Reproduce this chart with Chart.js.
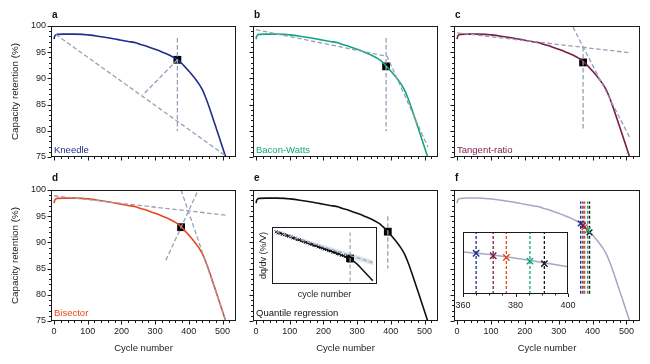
<!DOCTYPE html>
<html><head><meta charset="utf-8">
<script src="https://cdn.jsdelivr.net/npm/chart.js@4.4.1/dist/chart.umd.min.js"></script>
<style>
html,body{margin:0;padding:0;background:#fff;width:650px;height:364px;overflow:hidden;position:relative}
canvas{position:absolute;left:0;top:0}
</style></head><body>
<script>
// ---------------- DATA ----------------
const cycles    = [0,2,5,10,30,60,85,100,130,160,190,220,245,255,275,300,320,340,350,360,365,370,375,380,385,390,395,400,410,420,430,440,450,460,470,480,490,500,510];
const retention = [97.5,98.05,98.3,98.4,98.45,98.45,98.4,98.3,98.05,97.75,97.4,97.05,96.75,96.5,96.15,95.55,95.05,94.5,94.18,93.83,93.63,93.38,93.1,92.8,92.45,92.1,91.75,91.4,90.65,89.85,88.95,87.85,86.35,84.6,82.7,80.75,78.8,76.85,74.9];

const methods       = ['Kneedle','Bacon-Watts','Tangent-ratio','Bisector','Quantile regression'];
const kneeCycle     = [366, 386, 372, 377, 391];
const kneeRetention = [93.55, 92.3, 93.05, 92.9, 92.05];

// dashed construction lines, [cycle, retention] end points
const kneedleGuides  = [[[5,98.4],[510,75.2]], [[366,93.55],[263,86.8]], [[366,97.7],[366,79.9]]];
const baconGuides    = [[[0,99.3],[389,94.2],[510,76.9]], [[386,97.7],[386,79.9]]];
const tangentGuides  = [[[0,98.7],[510,94.9]], [[342,99.8],[510,78.7]], [[372,96.0],[372,80.0]]];
const bisectorGuides = [[[0,98.9],[510,95.2]], [[377,100],[510,75]], [[332,86.6],[428,100]]];
const quantileGuides = [[[391,95.0],[391,85.0]]];

// panel f: knee onsets of all methods (blue, maroon, orange, green, black)
const onsetCycle     = [365, 371.5, 376.5, 385.5, 391];
const onsetRetention = [93.6, 93.2, 92.9, 92.3, 91.9];
const onsetSpanMain  = [80.2, 97.8];

// inset of panel e (arbitrary units)
const insetX    = [4,6,8,10,12,14,16,18,20,22,24,26,28,30,32,34,36,38,40,42,44,46,48,50,52,54,56,58,60,62,64,66,68,70,72,74,76,78,80,82,84,86,88,90,92,94,96];
const insetDqdv = [0.915,0.896,0.893,0.872,0.868,0.851,0.838,0.829,0.807,0.803,0.779,0.776,0.757,0.748,0.731,0.722,0.703,0.696,0.675,0.672,0.652,0.640,0.627,0.611,0.604,0.585,0.578,0.556,0.552,0.531,0.524,0.502,0.497,0.475,0.466,0.448,0.425,0.397,0.366,0.331,0.294,0.255,0.215,0.175,0.135,0.096,0.057];
const insetBandX     = [4, 96];
const insetBandUpper = [0.943, 0.417];
const insetBandLower = [0.874, 0.331];
const insetFitY      = [0.912, 0.374];
const insetKnee      = [74.4, 0.446];
const insetKneeSpan  = [0.046, 0.903];

// tick labels
const xTickLabels = [0,100,200,300,400,500];
const yTickLabels = [75,80,85,90,95,100];
const insetFTicks = [360,380,400];

// ---------------- STYLE ----------------
const FONT = "'Liberation Sans', Arial, Helvetica, sans-serif";
const NAVY='#1f2e8c', GREEN='#14a57f', MAROON='#7a1d48', ORANGE='#e8461c', BLACK='#111111';
const GREY='#98a0b6', FGREY='#a3a9c2';
const ONSET_COLORS=[NAVY, MAROON, ORANGE, GREEN, '#1a1a1a'];

const xMinor=[]; for(let v=20; v<=520; v+=20) if(v%100) xMinor.push(v);
const yMinor=[]; for(let v=76; v<100; v++) if(v%5) yMinor.push(v);
const fMinor=[365,370,375,385,390,395];

const curvePts = cycles.map((c,i)=>({x:c,y:retention[i]}));

function drawTexts(ctx, list){
  list.forEach(o=>{
    ctx.save();
    ctx.font=(o.bold?'bold ':'')+o.size+'px '+FONT;
    ctx.fillStyle=o.color||'#222';
    ctx.textAlign=o.align||'left';
    ctx.textBaseline=o.base||'alphabetic';
    ctx.translate(o.x,o.y);
    if(o.rot) ctx.rotate(o.rot);
    ctx.fillText(o.t,0,0);
    ctx.restore();
  });
}

function makeChart(area, datasets, cfg){
  const cv=document.createElement('canvas');
  cv.width=650; cv.height=364; cv.style.width='650px'; cv.style.height='364px';
  document.body.appendChild(cv);
  const deco={
    id:'deco',
    beforeDraw(chart){
      if(!cfg.whiteBg) return;
      const a=chart.chartArea, c=chart.ctx;
      c.save(); c.fillStyle='#fff'; c.fillRect(a.left,a.top,a.right-a.left,a.bottom-a.top); c.restore();
    },
    afterDraw(chart){
      const c=chart.ctx, a=chart.chartArea, xs=chart.scales.x, ys=chart.scales.y;
      c.save();
      c.strokeStyle='#1a1a1a'; c.lineWidth=1;
      const L=Math.round(a.left)+0.5, T=Math.round(a.top)+0.5, R=Math.round(a.right)-0.5, B=Math.round(a.bottom)-0.5;
      c.strokeRect(L,T,R-L,B-T);
      c.beginPath();
      if(cfg.tx){
        cfg.tx.major.forEach(v=>{const p=Math.round(xs.getPixelForValue(v))+0.5; c.moveTo(p,B); c.lineTo(p,B+cfg.tx.ml);});
        cfg.tx.minor.forEach(v=>{const p=Math.round(xs.getPixelForValue(v))+0.5; c.moveTo(p,B); c.lineTo(p,B+cfg.tx.nl);});
      }
      if(cfg.ty){
        cfg.ty.major.forEach(v=>{const p=Math.round(ys.getPixelForValue(v))+0.5; c.moveTo(L,p); c.lineTo(L-cfg.ty.ml,p);});
        cfg.ty.minor.forEach(v=>{const p=Math.round(ys.getPixelForValue(v))+0.5; c.moveTo(L,p); c.lineTo(L-cfg.ty.nl,p);});
      }
      c.stroke();
      c.restore();
      drawTexts(c, cfg.texts||[]);
    }
  };
  const yW=area.l, xH=364-area.b;
  return new Chart(cv,{
    type:'line',
    data:{datasets},
    options:{
      responsive:false, animation:false, devicePixelRatio:1, events:[],
      layout:{padding:{left:0, top:area.t, right:650-area.r, bottom:0}},
      plugins:{legend:{display:false}, tooltip:{enabled:false}, title:{display:false}},
      elements:{line:{tension:0}, point:{radius:0}},
      scales:{
        x:{type:'linear', min:cfg.xmin, max:cfg.xmax,
           grid:{display:false, drawTicks:false}, border:{display:false},
           afterFit(s){s.height=xH;},
           afterBuildTicks(s){s.ticks=(cfg.xLabels||[]).map(v=>({value:v}));},
           ticks:{display:!!cfg.showX, font:{family:FONT,size:9}, color:'#222', padding:cfg.xPad||5, maxRotation:0, minRotation:0, autoSkip:false}},
        y:{type:'linear', min:cfg.ymin, max:cfg.ymax,
           grid:{display:false, drawTicks:false}, border:{display:false},
           afterFit(s){s.width=yW;},
           afterBuildTicks(s){s.ticks=(cfg.yLabels||[]).map(v=>({value:v}));},
           ticks:{display:!!cfg.showY, font:{family:FONT,size:9}, color:'#222', padding:5, autoSkip:false}}
      }
    },
    plugins:[deco]
  });
}

function curveDs(color,width,order){
  return {data:curvePts, borderColor:color, borderWidth:width||1.6, pointRadius:0, cubicInterpolationMode:'monotone', fill:false, order:order||2};
}
function segDs(pts,color,dash,width,order){
  return {data:pts.map(p=>({x:p[0],y:p[1]})), borderColor:color, borderDash:dash||[4.5,2.5], borderWidth:width||1.3, pointRadius:0, fill:false, order:order||1};
}
function kneeDs(i,r){
  return {data:[{x:kneeCycle[i],y:kneeRetention[i]}], showLine:false, pointStyle:'rect', pointRadius:r||5.5,
          pointBackgroundColor:'#000', pointBorderColor:'#000', pointBorderWidth:0, order:3};
}

const mainTicks={tx:{major:xTickLabels,minor:xMinor,ml:4,nl:2.5}, ty:{major:yTickLabels,minor:yMinor,ml:4,nl:2.5}};
const base={xmin:-9,xmax:540,ymin:75,ymax:100,xLabels:xTickLabels,yLabels:yTickLabels};
const TOP={t:26,b:157}, BOT={t:190,b:321};
const COLS=[{l:51,r:236},{l:253,r:438},{l:454,r:640}];
const yTitle='Capacity retention (%)', xTitle='Cycle number';

// ---- panel a ----
makeChart({l:COLS[0].l,r:COLS[0].r,t:TOP.t,b:TOP.b},
  [kneeDs(0), curveDs(NAVY)].concat(kneedleGuides.map(g=>segDs(g,GREY))),
  Object.assign({},base,mainTicks,{showY:true, texts:[
    {t:'a',x:52,y:17.5,size:10,bold:true,color:'#111'},
    {t:methods[0],x:54,y:152.5,size:9.5,color:NAVY},
    {t:yTitle,x:15,y:91.5,size:9.8,rot:-Math.PI/2,align:'center',base:'middle'}]}));
// ---- panel b ----
makeChart({l:COLS[1].l,r:COLS[1].r,t:TOP.t,b:TOP.b},
  [kneeDs(1), curveDs(GREEN)].concat(baconGuides.map(g=>segDs(g,GREY))),
  Object.assign({},base,mainTicks,{texts:[
    {t:'b',x:254,y:17.5,size:10,bold:true,color:'#111'},
    {t:methods[1],x:256,y:152.5,size:9.5,color:GREEN}]}));
// ---- panel c ----
makeChart({l:COLS[2].l,r:COLS[2].r,t:TOP.t,b:TOP.b},
  [kneeDs(2), curveDs(MAROON)].concat(tangentGuides.map(g=>segDs(g,GREY))),
  Object.assign({},base,mainTicks,{texts:[
    {t:'c',x:455,y:17.5,size:10,bold:true,color:'#111'},
    {t:methods[2],x:457,y:152.5,size:9.5,color:MAROON}]}));
// ---- panel d ----
makeChart({l:COLS[0].l,r:COLS[0].r,t:BOT.t,b:BOT.b},
  [kneeDs(3), curveDs(ORANGE)].concat(bisectorGuides.map(g=>segDs(g,GREY))),
  Object.assign({},base,mainTicks,{showY:true, showX:true, texts:[
    {t:'d',x:52,y:181,size:10,bold:true,color:'#111'},
    {t:methods[3],x:54,y:316,size:9.5,color:ORANGE},
    {t:yTitle,x:15,y:255.5,size:9.8,rot:-Math.PI/2,align:'center',base:'middle'},
    {t:xTitle,x:143.5,y:348,size:9.5,align:'center',base:'middle'}]}));
// ---- panel e ----
makeChart({l:COLS[1].l,r:COLS[1].r,t:BOT.t,b:BOT.b},
  [kneeDs(4), curveDs(BLACK)].concat(quantileGuides.map(g=>segDs(g,GREY))),
  Object.assign({},base,mainTicks,{showX:true, texts:[
    {t:'e',x:254,y:181,size:10,bold:true,color:'#111'},
    {t:methods[4],x:256,y:316,size:9.5,color:'#111'},
    {t:xTitle,x:345.5,y:348,size:9.5,align:'center',base:'middle'},
    {t:'dq/dv (%/V)',x:264,y:255.5,size:9,rot:-Math.PI/2,align:'center',base:'middle'},
    {t:'cycle number',x:324.5,y:294.5,size:9,align:'center',base:'middle'}]}));
// ---- panel f ----
const fDs=[curveDs(FGREY,1.5,3)];
onsetCycle.forEach((c,i)=>fDs.push(segDs([[c,onsetSpanMain[0]],[c,onsetSpanMain[1]]],ONSET_COLORS[i],[3,2],1.4,2)));
onsetCycle.forEach((c,i)=>fDs.push({data:[{x:c,y:onsetRetention[i]}],showLine:false,pointStyle:'crossRot',pointRadius:4,
  pointBorderColor:ONSET_COLORS[i],pointBorderWidth:1.4,order:1}));
makeChart({l:COLS[2].l,r:COLS[2].r,t:BOT.t,b:BOT.b}, fDs,
  Object.assign({},base,mainTicks,{showX:true, texts:[
    {t:'f',x:455,y:181,size:10,bold:true,color:'#111'},
    {t:xTitle,x:547,y:348,size:9.5,align:'center',base:'middle'}]}));

// ---- inset e ----
const insetPts=insetX.map((x,i)=>({x,y:insetDqdv[i]}));
makeChart({l:272,t:227,r:377,b:284},[
  {data:insetBandX.map((x,i)=>({x,y:insetBandUpper[i]})),borderWidth:0,pointRadius:0,fill:'+1',backgroundColor:'rgba(170,185,208,0.42)',order:5},
  {data:insetBandX.map((x,i)=>({x,y:insetBandLower[i]})),borderWidth:0,pointRadius:0,fill:false,order:5},
  {data:insetPts,borderColor:'#111',borderWidth:1.5,cubicInterpolationMode:'monotone',
   pointStyle:'crossRot',pointRadius:ctx=>ctx.dataIndex<=35?2:0,pointBorderColor:'#111',pointBorderWidth:1,order:3},
  segDs([[insetBandX[0],insetFitY[0]],[insetBandX[1],insetFitY[1]]],GREY,[4,2.5],1.2,2),
  segDs([[insetKnee[0],insetKneeSpan[0]],[insetKnee[0],insetKneeSpan[1]]],GREY,[4,2.5],1.2,2),
  {data:[{x:insetKnee[0],y:insetKnee[1]}],showLine:false,pointStyle:'rect',pointRadius:4.8,pointBackgroundColor:'#000',pointBorderColor:'#000',order:4}
],{xmin:0,xmax:100,ymin:0,ymax:1,whiteBg:true});

// ---- inset f ----
const fiDs=[curveDs(FGREY,1.5,3)];
onsetCycle.forEach((c,i)=>fiDs.push(segDs([[c,86.9],[c,97.1]],ONSET_COLORS[i],[3,2],1.3,2)));
onsetCycle.forEach((c,i)=>fiDs.push({data:[{x:c,y:onsetRetention[i]}],showLine:false,pointStyle:'crossRot',pointRadius:4.5,
  pointBorderColor:ONSET_COLORS[i],pointBorderWidth:1.4,order:1}));
makeChart({l:463,t:232,r:568,b:294}, fiDs,
  {xmin:360,xmax:400,ymin:86.9,ymax:97.1,whiteBg:true,showX:true,xLabels:insetFTicks,xPad:6,
   tx:{major:insetFTicks,minor:fMinor,ml:3.5,nl:2}});
</script>
</body></html>
